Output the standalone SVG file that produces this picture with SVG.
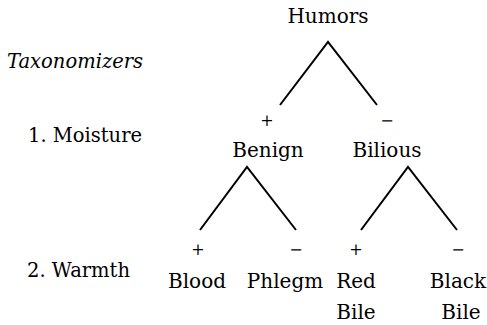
<svg xmlns="http://www.w3.org/2000/svg" width="487" height="325" viewBox="0 0 487 325">
<defs>
<style>
.e{stroke:#000;stroke-width:2;fill:none}
.t{font-family:'DejaVu Serif',serif;fill:#000}
</style>
</defs>
<rect width="487" height="325" fill="#fff"/>
<g id="labels" class="t" font-size="19.5">
<text x="7" y="68" font-style="italic">Taxonomizers</text>
<text x="28" y="142">1. Moisture</text>
<text x="27" y="277">2. Warmth</text>
</g>
<g id="connectors">
<path class="e" d="M280,105 L328,42 L377,105"/>
<path class="e" d="M200,230 L247,167 L296,230"/>
<path class="e" d="M361,230 L408,167 L457,230"/>
</g>
<g id="signs" class="t" font-size="16" text-anchor="middle">
<text x="267" y="126">+</text>
<text x="387" y="126">−</text>
<text x="198" y="255">+</text>
<text x="296" y="255">−</text>
<text x="356" y="255">+</text>
<text x="458" y="255">−</text>
</g>
<g class="t" font-size="20" text-anchor="middle">
<g id="humors"><text x="328" y="23">Humors</text></g>
<g id="benign"><text x="268" y="157">Benign</text></g>
<g id="bilious"><text x="387" y="157">Bilious</text></g>
<g id="blood"><text x="197" y="288">Blood</text></g>
<g id="phlegm"><text x="285" y="288">Phlegm</text></g>
<g id="redbile"><text x="356" y="288">Red</text><text x="356" y="319">Bile</text></g>
<g id="blackbile"><text x="458" y="288">Black</text><text x="461" y="319">Bile</text></g>
</g>
</svg>
